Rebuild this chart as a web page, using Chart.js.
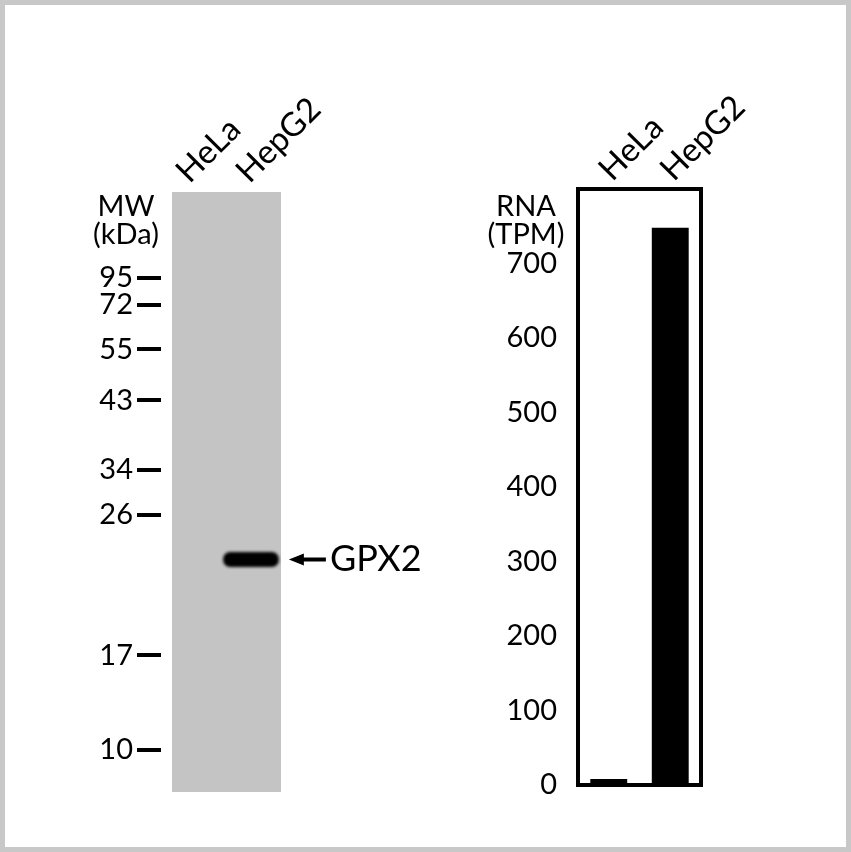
<!DOCTYPE html>
<html><head><meta charset="utf-8">
<script src="https://cdn.jsdelivr.net/npm/chart.js@4.4.1/dist/chart.umd.min.js"></script>
<style>
html,body{margin:0;padding:0;background:#fff;}
#wrap{position:relative;width:851px;height:852px;overflow:hidden;background:#fff;}
#frame{position:absolute;left:0;top:0;width:851px;height:852px;box-sizing:border-box;border:5px solid #c8c8c8;pointer-events:none;}
#blot{position:absolute;left:0;top:0;}
#rna{position:absolute;left:440px;top:0;}
</style></head><body>
<div id="wrap">
<canvas id="blot" width="440" height="852"></canvas>
<canvas id="rna" width="411" height="852"></canvas>
<div id="frame"></div>
</div>
<script>
// ---- data ----
const lanes = ['HeLa', 'HepG2'];
const mwMarkers = [95, 72, 55, 43, 34, 26, 17, 10];
const mwMigration = [0.143, 0.188, 0.262, 0.347, 0.463, 0.538, 0.772, 0.930];
const bandTarget = 'GPX2';
const bandMigration = [null, [0.600, 0.625]];
const rnaCategories = ['HeLa', 'HepG2'];
const rnaTPM = [8, 748];
const rnaTicks = [0, 100, 200, 300, 400, 500, 600, 700];

const FONT = 'Lato';

const blotPlugin = {
  id: 'blotDeco',
  beforeDatasetsDraw(chart) {
    const {ctx, chartArea: a} = chart;
    ctx.save();
    ctx.fillStyle = '#c4c4c4';
    ctx.fillRect(a.left + 11, a.top, a.right - a.left - 11, a.bottom - a.top);
    ctx.restore();
  },
  beforeDatasetDraw(chart) { chart.ctx.save(); chart.ctx.filter = 'blur(1.7px)'; },
  afterDatasetDraw(chart) { chart.ctx.restore(); },
  afterDraw(chart) {
    const ctx = chart.ctx;
    const el = chart.getDatasetMeta(0).data[1];
    const right = el.x + el.width / 2;
    const yc = (el.y + el.base) / 2;
    ctx.save();
    ctx.fillStyle = '#000';
    ctx.strokeStyle = '#000';
    const tip = right + 10;
    ctx.lineWidth = 4;
    ctx.beginPath(); ctx.moveTo(tip + 10, yc); ctx.lineTo(right + 47, yc); ctx.stroke();
    ctx.beginPath(); ctx.moveTo(tip, yc); ctx.lineTo(tip + 15, yc - 6); ctx.lineTo(tip + 15, yc + 6); ctx.closePath(); ctx.fill();
    ctx.font = '36px ' + FONT;
    ctx.textBaseline = 'middle';
    ctx.textAlign = 'left';
    ctx.fillText(bandTarget, right + 51, yc);
    ctx.font = '29px ' + FONT;
    ctx.textAlign = 'center';
    ctx.fillText('MW', 126, 207);
    ctx.fillText('(kDa)', 126, 235);
    ctx.restore();
  }
};

new Chart(document.getElementById('blot'), {
  type: 'bar',
  data: {labels: lanes, datasets: [{label: bandTarget, data: bandMigration, backgroundColor: '#000',
    borderSkipped: false, borderRadius: 7, barPercentage: 0.93, categoryPercentage: 1}]},
  options: {
    responsive: false, animation: false, devicePixelRatio: 1,
    layout: {padding: {left: 0, right: 159, top: 0, bottom: 60}},
    plugins: {legend: {display: false}, tooltip: {enabled: false}},
    scales: {
      x: {position: 'top', offset: true, grid: {display: false, drawTicks: false}, border: {display: false},
        ticks: {autoSkip: false, minRotation: 45, maxRotation: 45, padding: 1, labelOffset: 19, color: '#000',
          font: {family: FONT, size: 33}},
        afterFit(s) { s.height = 192; }},
      y: {reverse: true, min: 0, max: 1, border: {display: false},
        grid: {drawOnChartArea: false, drawTicks: true, tickLength: 24, lineWidth: 4, tickWidth: 4, color: '#000', tickColor: '#000'},
        ticks: {autoSkip: false, padding: 4, color: '#000', font: {family: FONT, size: 29},
          callback: (v, i) => mwMarkers[i]},
        afterBuildTicks(s) { s.ticks = mwMigration.map(v => ({value: v})); },
        afterFit(s) { s.width = 161; }}
    }
  },
  plugins: [blotPlugin]
});

const rnaPlugin = {
  id: 'rnaDeco',
  afterDatasetsDraw(chart) {
    const {ctx, chartArea: a} = chart;
    ctx.save();
    ctx.lineWidth = 4;
    ctx.strokeStyle = '#000';
    ctx.strokeRect(a.left, a.top, a.right - a.left, a.bottom - a.top);
    ctx.fillStyle = '#000';
    ctx.font = '29px ' + FONT;
    ctx.textAlign = 'center';
    ctx.textBaseline = 'middle';
    ctx.fillText('RNA', 86, 207);
    ctx.fillText('(TPM)', 86, 235);
    ctx.restore();
  }
};

new Chart(document.getElementById('rna'), {
  type: 'bar',
  data: {labels: rnaCategories, datasets: [{label: 'RNA (TPM)', data: rnaTPM, backgroundColor: '#000',
    barPercentage: 0.6, categoryPercentage: 1}]},
  options: {
    responsive: false, animation: false, devicePixelRatio: 1,
    layout: {padding: {left: 0, right: 150, top: 0, bottom: 67}},
    plugins: {legend: {display: false}, tooltip: {enabled: false}},
    scales: {
      x: {position: 'top', grid: {display: false, drawTicks: false}, border: {display: false},
        ticks: {autoSkip: false, minRotation: 45, maxRotation: 45, padding: 0, labelOffset: 24, color: '#000',
          font: {family: FONT, size: 33}},
        afterFit(s) { s.height = 189; }},
      y: {min: 0, max: 800, grid: {display: false, drawTicks: false}, border: {display: false},
        ticks: {autoSkip: false, padding: 21, color: '#000', font: {family: FONT, size: 29}},
        afterBuildTicks(s) { s.ticks = rnaTicks.map(v => ({value: v})); },
        afterFit(s) { s.width = 138; }}
    }
  },
  plugins: [rnaPlugin]
});
</script>
</body></html>
